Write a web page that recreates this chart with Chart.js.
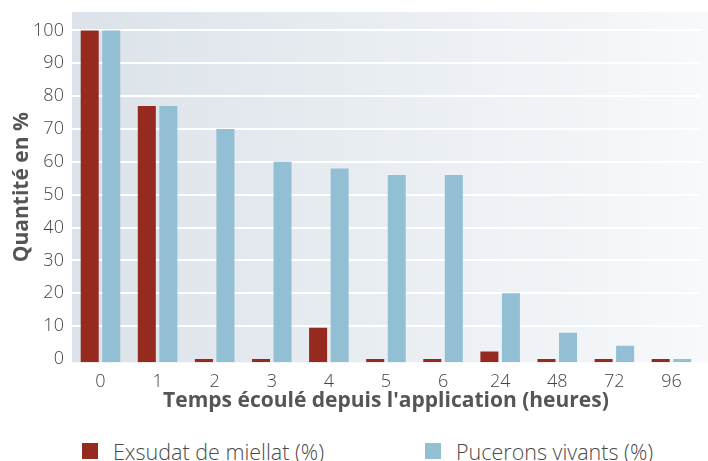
<!DOCTYPE html>
<html>
<head>
<meta charset="utf-8">
<script src="https://cdn.jsdelivr.net/npm/chart.js@4.4.0/dist/chart.umd.min.js"></script>
<style>
  html, body { margin: 0; padding: 0; background: #fff; }
  #wrap { position: relative; width: 708px; height: 461px; }
  #box { position: absolute; left: 0; top: 0; width: 708px; height: 417px; }
  #legend { position: absolute; left: 0; top: 440px; width: 708px; height: 22px;
            font-family: "Open Sans", sans-serif; font-size: 21.5px; font-weight: 300; color: #4a4a4a; }
  .item { position: absolute; top: 0; height: 22px; display: flex; align-items: center; white-space: nowrap; }
  .sw { width: 16px; height: 16px; margin-right: 15px; }
</style>
</head>
<body>
<div id="wrap">
  <div id="box"><canvas id="chart"></canvas></div>
  <div id="legend"></div>
</div>
<script>
const hours = ['0', '1', '2', '3', '4', '5', '6', '24', '48', '72', '96'];
const honeydew = [100, 77, 0, 0, 9.5, 0, 0, 2.3, 0, 0, 0];
const aphids = [100, 77, 70, 60, 58, 56, 56, 20, 8, 4, 0];
const yTicks = [0, 10, 20, 30, 40, 50, 60, 70, 80, 90, 100];
const seriesNames = ['Exsudat de miellat (%)', 'Pucerons vivants (%)'];

const red = '#962a1f';
const blue = '#93bfd4';
const textGrey = '#444444';
const titleGrey = '#555555';

// gradient behind the plot, running to the right edge of the canvas
const plotBackground = {
    id: 'plotBackground',
    beforeDraw(chart) {
        const { ctx, chartArea } = chart;
        const grad = ctx.createLinearGradient(chartArea.left, 0, chart.width, 0);
        grad.addColorStop(0, '#dbe2e9');
        grad.addColorStop(1, '#f7f9fb');
        ctx.save();
        ctx.fillStyle = grad;
        ctx.fillRect(chartArea.left, chartArea.top, chart.width - chartArea.left, chartArea.bottom - chartArea.top);
        ctx.restore();
    }
};

const chart = new Chart(document.getElementById('chart'), {
    type: 'bar',
    data: {
        labels: hours,
        datasets: [
            { label: seriesNames[0], data: honeydew, backgroundColor: red, base: -1 },
            { label: seriesNames[1], data: aphids, backgroundColor: blue, base: -1 }
        ]
    },
    options: {
        responsive: true,
        maintainAspectRatio: false,
        animation: false,
        layout: { padding: { top: 12, right: 8, left: 0, bottom: 0 } },
        datasets: { bar: { categoryPercentage: 0.754, barPercentage: 0.837 } },
        plugins: {
            legend: { display: false },
            tooltip: { enabled: false }
        },
        scales: {
            x: {
                grid: { display: false },
                border: { display: false },
                ticks: { color: textGrey, padding: 1, font: { family: 'Open Sans', size: 18, weight: 300 } },
                title: {
                    display: true,
                    text: "Temps écoulé depuis l'application (heures)",
                    color: titleGrey,
                    font: { family: 'Open Sans', size: 21, weight: 'bold', lineHeight: 1.1 },
                    padding: { top: -4, bottom: 4 }
                }
            },
            y: {
                min: -1,
                max: 105.6,
                afterBuildTicks(axis) {
                    axis.ticks = yTicks.map(v => ({ value: v }));
                },
                afterFit(axis) {
                    // top label (100) sits well inside the plot, no need to reserve room for it
                    axis.paddingTop = 0;
                    axis.paddingBottom = 0;
                },
                grid: {
                    color: c => (c.tick && c.tick.value === 0) ? 'rgba(0,0,0,0)' : '#ffffff',
                    lineWidth: 2,
                    drawTicks: false
                },
                border: { display: false },
                ticks: { color: textGrey, padding: 8, font: { family: 'Open Sans', size: 18, weight: 300 } },
                title: {
                    display: true,
                    text: 'Quantité en %',
                    color: titleGrey,
                    font: { family: 'Open Sans', size: 21, weight: 'bold', lineHeight: 1.1 },
                    padding: { top: 10, bottom: -8 }
                }
            }
        }
    },
    plugins: [plotBackground]
});

// legend as HTML, built from the datasets
const legendLeft = [82, 425];
const legend = document.getElementById('legend');
chart.data.datasets.forEach((ds, i) => {
    const item = document.createElement('div');
    item.className = 'item';
    item.style.left = legendLeft[i] + 'px';
    const sw = document.createElement('span');
    sw.className = 'sw';
    sw.style.background = ds.backgroundColor;
    const txt = document.createElement('span');
    txt.textContent = ds.label;
    item.appendChild(sw);
    item.appendChild(txt);
    legend.appendChild(item);
});
</script>
</body>
</html>
